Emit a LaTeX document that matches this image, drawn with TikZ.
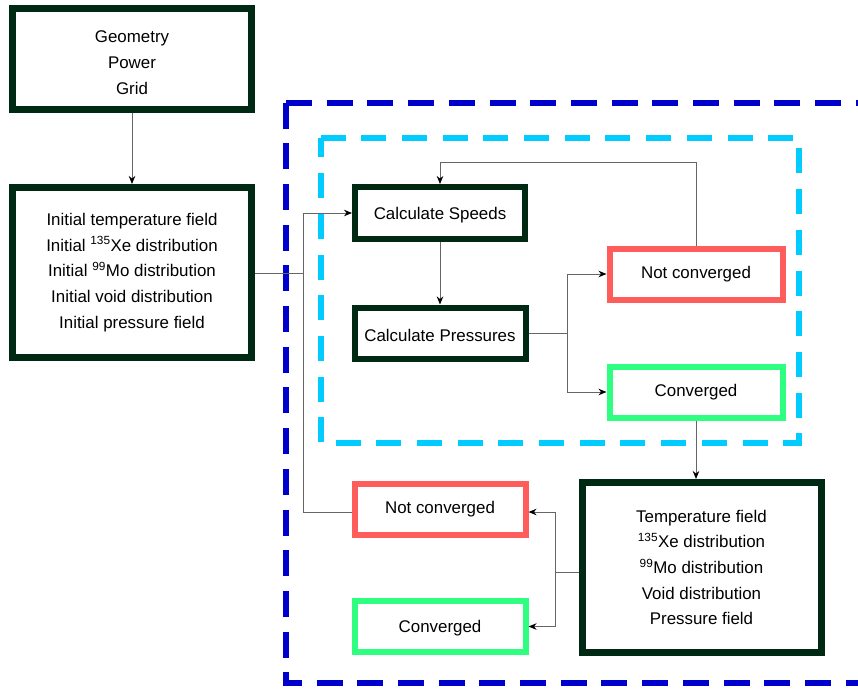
\documentclass[tikz,border=0pt]{standalone}
\usepackage{fontspec}
\setmainfont{Liberation Sans}
\usetikzlibrary{arrows.meta,calc}
\definecolor{boxdark}{HTML}{002914}
\definecolor{boxred}{HTML}{FF5C5C}
\definecolor{boxgreen}{HTML}{2EFF80}
\definecolor{dashblue}{HTML}{0000CC}
\definecolor{dashcyan}{HTML}{00CCFF}
\definecolor{connc}{HTML}{666666}
\tikzset{
  txt/.style={align=center,inner sep=0pt,font=\fontsize{16.9}{25.7}\selectfont},
  base/.style={txt,rectangle,fill=white},
  darkbox/.style={base,draw=boxdark,line width=7pt},
  stepbox/.style={base,draw=boxdark,line width=6pt},
  redbox/.style={base,draw=boxred,line width=6pt},
  greenbox/.style={base,draw=boxgreen,line width=6pt},
  conn/.style={draw=connc,line width=1pt},
  arr/.style={conn,-{Stealth[length=8pt,width=6.5pt,inset=2.5pt,black]}},
  bluedash/.style={draw=dashblue,line width=6pt,dash pattern=on 26pt off 14.7pt},
  cyandash/.style={draw=dashcyan,line width=6pt,dash pattern=on 25pt off 15.7pt},
}
\begin{document}
\begin{tikzpicture}[x=1pt,y=-1pt]
\useasboundingbox (0,0) rectangle (858,688);
% dashed frames
\begin{scope}
\clip (0,0) rectangle (858,688);
\draw[bluedash] (286,102.5) -- (880,102.5);
\draw[bluedash] (286,102.5) -- (286,682.5) -- (880,682.5);
\end{scope}
\draw[cyandash] (320.5,138) -- (798.5,138) -- (798.5,443) -- (320.5,443) -- cycle;

% nodes
\node[darkbox,minimum width=239pt,minimum height=101pt] (geo) at (132,59) {};
\node[txt] (geotext) at (132,62.5) {Geometry\\Power\\Grid};
\node[darkbox,minimum width=239pt,minimum height=170pt] (init) at (132,272.5)
  {Initial temperature field\\Initial \textsuperscript{135}Xe distribution\\Initial \textsuperscript{99}Mo distribution\\Initial void distribution\\Initial pressure field};
\node[stepbox,minimum width=170pt,minimum height=52pt] (speeds) at (440,213) {};
\node[txt] (speedstext) at (440,215) {Calculate Speeds};
\node[stepbox,minimum width=171pt,minimum height=51pt] (press) at (440,333) {};
\node[txt] (presstext) at (440,335) {Calculate Pressures};
\node[redbox,minimum width=173pt,minimum height=51pt] (nc1) at (696,274) {Not converged};
\node[greenbox,minimum width=173pt,minimum height=51pt] (cv1) at (696,392) {Converged};
\node[darkbox,minimum width=239pt,minimum height=170pt] (res) at (701.5,567.5)
  {Temperature field\\\textsuperscript{135}Xe distribution\\\textsuperscript{99}Mo distribution\\Void distribution\\Pressure field};
\node[redbox,minimum width=171pt,minimum height=51pt] (nc2) at (440,509) {Not converged};
\node[greenbox,minimum width=171pt,minimum height=51pt] (cv2) at (440,626.5) {};
\node[txt] (cv2text) at (440,628) {Converged};

% junction coordinates
\coordinate (j1) at (303,273);
\coordinate (j2) at (567,333);
\coordinate (j3) at (555,572);
\coordinate (looptop) at (696,162);

% connectors
\draw[arr] (geo) -- (init);
\draw[conn] (init.east |- j1) -- (j1);
\draw[conn] ([yshift=-3pt]nc2.west) -| (j1);
\draw[arr] (j1) |- (speeds.west);
\draw[arr] (speeds) -- (press);
\draw[conn] (press.east) -- (j2);
\draw[arr] (j2) |- (nc1.west);
\draw[arr] (j2) |- (cv1.west);
\draw[arr] (nc1.north) -- (looptop) -| (speeds.north);
\draw[arr] (cv1.south) -- (cv1.south |- res.north);
\draw[conn] (res.west |- j3) -- (j3);
\draw[arr] (j3) |- ([yshift=-3pt]nc2.east);
\draw[arr] (j3) |- (cv2.east);
\end{tikzpicture}
\end{document}
